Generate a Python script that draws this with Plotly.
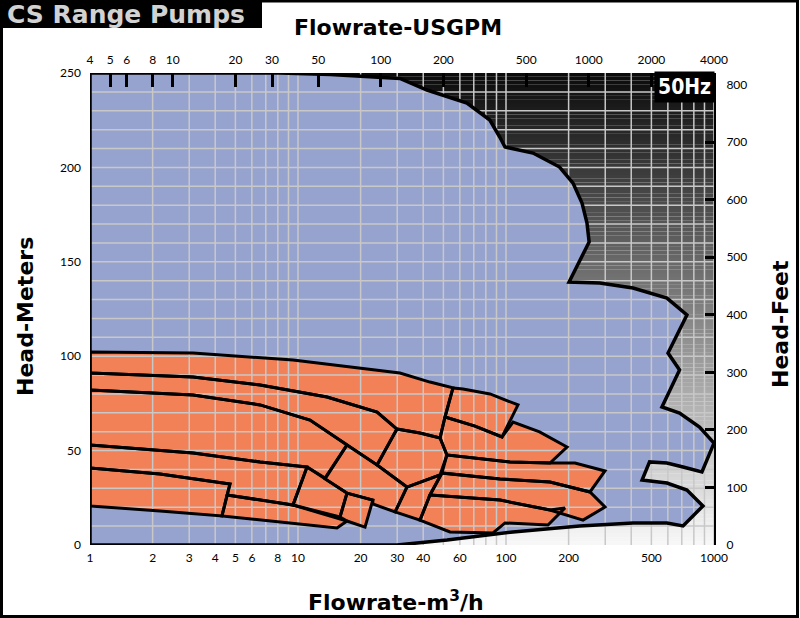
import math
import plotly.graph_objects as go

# ---------------- data ----------------
X_TICKS = [1, 2, 3, 4, 5, 6, 8, 10, 20, 30, 40, 60, 100, 200, 500, 1000]
Y_TICKS = [0, 50, 100, 150, 200, 250]
FT_TICKS = [0, 100, 200, 300, 400, 500, 600, 700, 800]
GPM_TICKS = [4, 5, 6, 8, 10, 20, 30, 50, 100, 200, 500, 1000, 2000, 4000]

M_TO_FT = 3.2808          # head metres -> feet
M3H_TO_GPM = 4.0          # flow m3/h -> USGPM as drawn on the top scale

# overall 50 Hz performance envelope (flow m3/h, head m)
ENV_FLOW = [1, 1, 8.18, 14.3, 30.9, 41.7, 64.9, 83.6, 93.3, 98.9, 134.8, 181, 210, 232, 245, 251,
            201, 282, 408, 594, 741, 601, 683, 562, 683, 852, 1000, 875, 710, 594, 490, 451,
            594, 741, 885, 710, 594, 408, 226, 108, 52.1, 29.9]
ENV_HEAD = [0, 250, 250, 249.2, 247.1, 241.0, 234.1, 225.1, 216.1, 210.8, 207.6, 200.2, 191.7, 181.1, 170.6, 160.5,
            139.3, 138.8, 136.1, 130.8, 121.8, 101.7, 92.7, 73.1, 69.9, 62.5, 54.0, 38.7, 41.3, 43.4, 44.0, 34.4,
            32.8, 29.1, 20.7, 10.1, 11.7, 11.7, 10.1, 6.9, 2.6, 0]

# individual pump model tiles (flow m3/h, head m)
TILE_FLOW = [
    [1, 2.17, 4.71, 4.31, 2.17, 1],
    [1, 3.13, 6.57, 11.05, 9.46, 6.57, 4.56, 4.71, 2.17, 1],
    [4.56, 6.57, 9.46, 12.76, 17.2, 15.4, 8.19, 4.31],
    [1, 3.13, 6.57, 11.42, 17.2, 13.49, 11.05, 6.57, 3.13, 1],
    [11.05, 13.49, 17.2, 15.92, 9.46],
    [17.2, 22.9, 21.0, 17.2, 15.92],
    [17.2, 24.0, 33.4, 29.3, 22.9, 22.9, 17.2, 13.49],
    [1, 3.13, 6.57, 13.79, 24.0, 29.9, 24.0, 17.2, 11.42, 6.57, 3.13, 1],
    [1, 3.13, 9.46, 30.9, 43.1, 55.6, 50.9, 48.2, 38.6, 29.9, 24.0, 13.79, 6.57, 3.13, 1],
    [55.6, 62.1, 83.8, 114.2, 95.7, 71.0, 50.9],
    [29.9, 38.6, 48.2, 52.0, 48.2, 33.4, 24.0],
    [33.4, 48.2, 49.2, 43.1, 38.6, 29.3],
    [50.9, 71.0, 95.7, 108.1, 145, 196.5, 162.7, 104.5, 52.0, 48.2],
    [52.0, 104.5, 162.7, 214.6, 299.2, 253.4, 162.7, 93.6, 49.2],
    [49.2, 93.6, 162.7, 253.4, 299.2, 234.6, 162.7, 93.6, 43.1],
    [43.1, 93.6, 162.7, 192.1, 159.2, 98.9, 86.6, 53.8, 38.6],
]
TILE_HEAD = [
    [40.8, 37.6, 32.3, 15.4, 18.0, 20.7],
    [53.0, 48.7, 44.0, 41.3, 21.2, 23.8, 26.5, 32.3, 37.6, 40.8],
    [26.5, 23.8, 21.2, 16.9, 12.7, 9.0, 12.2, 15.4],
    [82.1, 79.4, 74.2, 66.2, 53.0, 35.5, 41.3, 44.0, 48.7, 53.0],
    [41.3, 35.0, 27.5, 14.8, 21.2],
    [27.5, 23.8, 9.5, 12.7, 14.8],
    [53.0, 42.4, 30.7, 17.5, 21.7, 23.8, 27.5, 35.0],
    [91.1, 89.0, 84.7, 78.4, 70.4, 61.4, 42.4, 53.0, 66.2, 74.2, 79.4, 82.1],
    [102.2, 101.7, 98.0, 91.1, 86.3, 83.2, 67.8, 56.7, 59.3, 61.4, 70.4, 78.4, 84.7, 89.0, 91.1],
    [83.2, 82.6, 80.0, 74.2, 57.2, 63.0, 67.8],
    [61.4, 59.3, 56.7, 47.7, 37.1, 30.7, 42.4],
    [30.7, 37.1, 38.1, 26.5, 13.2, 17.5],
    [67.8, 63.0, 57.2, 65.1, 59.9, 51.9, 43.4, 44.0, 47.7, 56.7],
    [47.7, 44.0, 43.4, 43.4, 39.2, 28.1, 33.4, 35.0, 38.1],
    [38.1, 35.0, 33.4, 28.1, 20.1, 13.2, 18.5, 23.8, 26.5],
    [26.5, 23.8, 18.5, 19.6, 10.6, 11.7, 6.4, 6.9, 13.2],
]

# ---------------- styling ----------------
BLUE = "#97a3cf"
ORANGE = "#f28157"
GRID = "#c8c8c8"
FONT = "Lato, 'Open Sans', sans-serif"
TITLE_FONT = "'DejaVu Sans', sans-serif"

W, H = 800, 618
ML, MR, MT, MB = 90, 86, 73, 73
PW, PH = W - ML - MR, H - MT - MB


def px(xp):
    return (xp - ML) / PW


def py(yp):
    return (H - MB - yp) / PH


Y_MAX = 250
fig = go.Figure()

# background grey gradient (dark at top, light at bottom)
N_BANDS = 125
shapes = []
for i in range(N_BANDS):
    t = (i + 0.5) / N_BANDS
    g = int(round(248 - t * (248 - 10)))
    shapes.append(dict(type="rect", xref="paper", yref="y", x0=0, x1=1,
                       y0=i * Y_MAX / N_BANDS, y1=(i + 1) * Y_MAX / N_BANDS + 0.05,
                       fillcolor=f"rgb({g},{g},{g})", line=dict(width=0), layer="below"))

# envelope fill
fig.add_trace(go.Scatter(x=ENV_FLOW + [ENV_FLOW[0]], y=ENV_HEAD + [ENV_HEAD[0]], mode="lines",
                         fill="toself", fillcolor=BLUE, line=dict(width=0),
                         hoverinfo="skip", showlegend=False))
# tile fills
for fx, hy in zip(TILE_FLOW, TILE_HEAD):
    fig.add_trace(go.Scatter(x=fx + [fx[0]], y=hy + [hy[0]], mode="lines", fill="toself",
                             fillcolor=ORANGE, line=dict(width=0), hoverinfo="skip", showlegend=False))

# grid lines (drawn over fills)
gx, gy = [], []
for dec in (1, 10, 100):
    for m in range(1, 10):
        v = dec * m
        gx += [v, v, None]
        gy += [0, Y_MAX, None]
gx += [1000, 1000, None]
gy += [0, Y_MAX, None]
for h in range(10, Y_MAX, 10):
    gx += [1, 1000, None]
    gy += [h, h, None]
fig.add_trace(go.Scatter(x=gx, y=gy, mode="lines", line=dict(color=GRID, width=1.5),
                         hoverinfo="skip", showlegend=False))

# tile outlines
for fx, hy in zip(TILE_FLOW, TILE_HEAD):
    fig.add_trace(go.Scatter(x=fx + [fx[0]], y=hy + [hy[0]], mode="lines",
                             line=dict(color="black", width=3), hoverinfo="skip", showlegend=False))

# envelope outline
fig.add_trace(go.Scatter(x=ENV_FLOW + [ENV_FLOW[0]], y=ENV_HEAD + [ENV_HEAD[0]], mode="lines",
                         line=dict(color="black", width=3.5), hoverinfo="skip", showlegend=False))

# invisible trace to carry the secondary (USGPM / feet) axes
fig.add_trace(go.Scatter(x=[GPM_TICKS[0], GPM_TICKS[-1]], y=[FT_TICKS[0], FT_TICKS[-1]],
                         xaxis="x2", yaxis="y2", mode="markers", marker=dict(opacity=0),
                         hoverinfo="skip", showlegend=False))

# frame and title box
shapes.append(dict(type="rect", xref="paper", yref="paper", x0=px(1.5), x1=px(797.5),
                   y0=py(616.5), y1=py(1.0), line=dict(color="black", width=3), fillcolor="rgba(0,0,0,0)",
                   layer="above"))
shapes.append(dict(type="rect", xref="paper", yref="paper", x0=px(0), x1=px(262),
                   y0=py(28), y1=py(0), line=dict(width=0), fillcolor="black", layer="above"))

ann = [
    dict(text="<b>CS Range Pumps</b>", x=px(5), y=py(14), xref="paper", yref="paper",
         xanchor="left", yanchor="middle", showarrow=False,
         font=dict(family=TITLE_FONT, size=25, color="#d2d2d2")),
    dict(text="<b>Flowrate-USGPM</b>", x=px(398), y=py(27), xref="paper", yref="paper",
         xanchor="center", yanchor="middle", showarrow=False,
         font=dict(family=TITLE_FONT, size=22, color="black")),
    dict(text="<b>Head-Meters</b>", x=px(25), y=py(317), xref="paper", yref="paper",
         xanchor="center", yanchor="middle", showarrow=False, textangle=-90,
         font=dict(family=TITLE_FONT, size=22, color="black")),
    dict(text="<b>Head-Feet</b>", x=px(780), y=py(324), xref="paper", yref="paper",
         xanchor="center", yanchor="middle", showarrow=False, textangle=-90,
         font=dict(family=TITLE_FONT, size=22, color="black")),
    dict(text="<b>Flowrate-m<sup>3</sup>/h</b>", x=px(396), y=py(601), xref="paper", yref="paper",
         xanchor="center", yanchor="middle", showarrow=False,
         font=dict(family=TITLE_FONT, size=22, color="black")),
    dict(text="<b>50Hz</b>", x=px(684), y=py(87), xref="paper", yref="paper",
         xanchor="center", yanchor="middle", showarrow=False, bgcolor="black", borderpad=3,
         font=dict(family="'DejaVu Sans Condensed', 'Liberation Sans Narrow', sans-serif", size=21, color="white")),
]

tickfont = dict(family=FONT, size=12, color="black")
fig.update_layout(
    width=W, height=H, margin=dict(l=ML, r=MR, t=MT, b=MB),
    paper_bgcolor="white", plot_bgcolor="white",
    showlegend=False, shapes=shapes, annotations=ann,
    xaxis=dict(type="log", range=[0, 3], tickvals=X_TICKS, ticktext=[str(v) for v in X_TICKS],
               showgrid=False, zeroline=False, showline=False, ticks="", tickfont=tickfont,
               ticklabelstandoff=4),
    yaxis=dict(range=[0, Y_MAX], tickvals=Y_TICKS, showgrid=False, zeroline=False, showline=False,
               ticks="", tickfont=tickfont, ticklabelstandoff=8),
    xaxis2=dict(type="log", overlaying="x", side="top", anchor="y2",
                range=[math.log10(M3H_TO_GPM), math.log10(1000 * M3H_TO_GPM)],
                tickvals=GPM_TICKS, ticktext=[str(v) for v in GPM_TICKS],
                ticks="inside", ticklen=14, tickwidth=3, tickcolor="black",
                showgrid=False, zeroline=False, showline=False, tickfont=tickfont,
                ticklabelstandoff=6),
    yaxis2=dict(overlaying="y", side="right", anchor="x2", range=[0, Y_MAX * M_TO_FT],
                tickvals=FT_TICKS, ticks="inside", ticklen=9, tickwidth=3, tickcolor="black",
                showgrid=False, zeroline=False, showline=True, linecolor="black", linewidth=2,
                tickfont=tickfont, ticklabelstandoff=8),
)

fig.write_html("out.html", post_script="document.body.style.margin='0px';",
               config={"displayModeBar": False})
